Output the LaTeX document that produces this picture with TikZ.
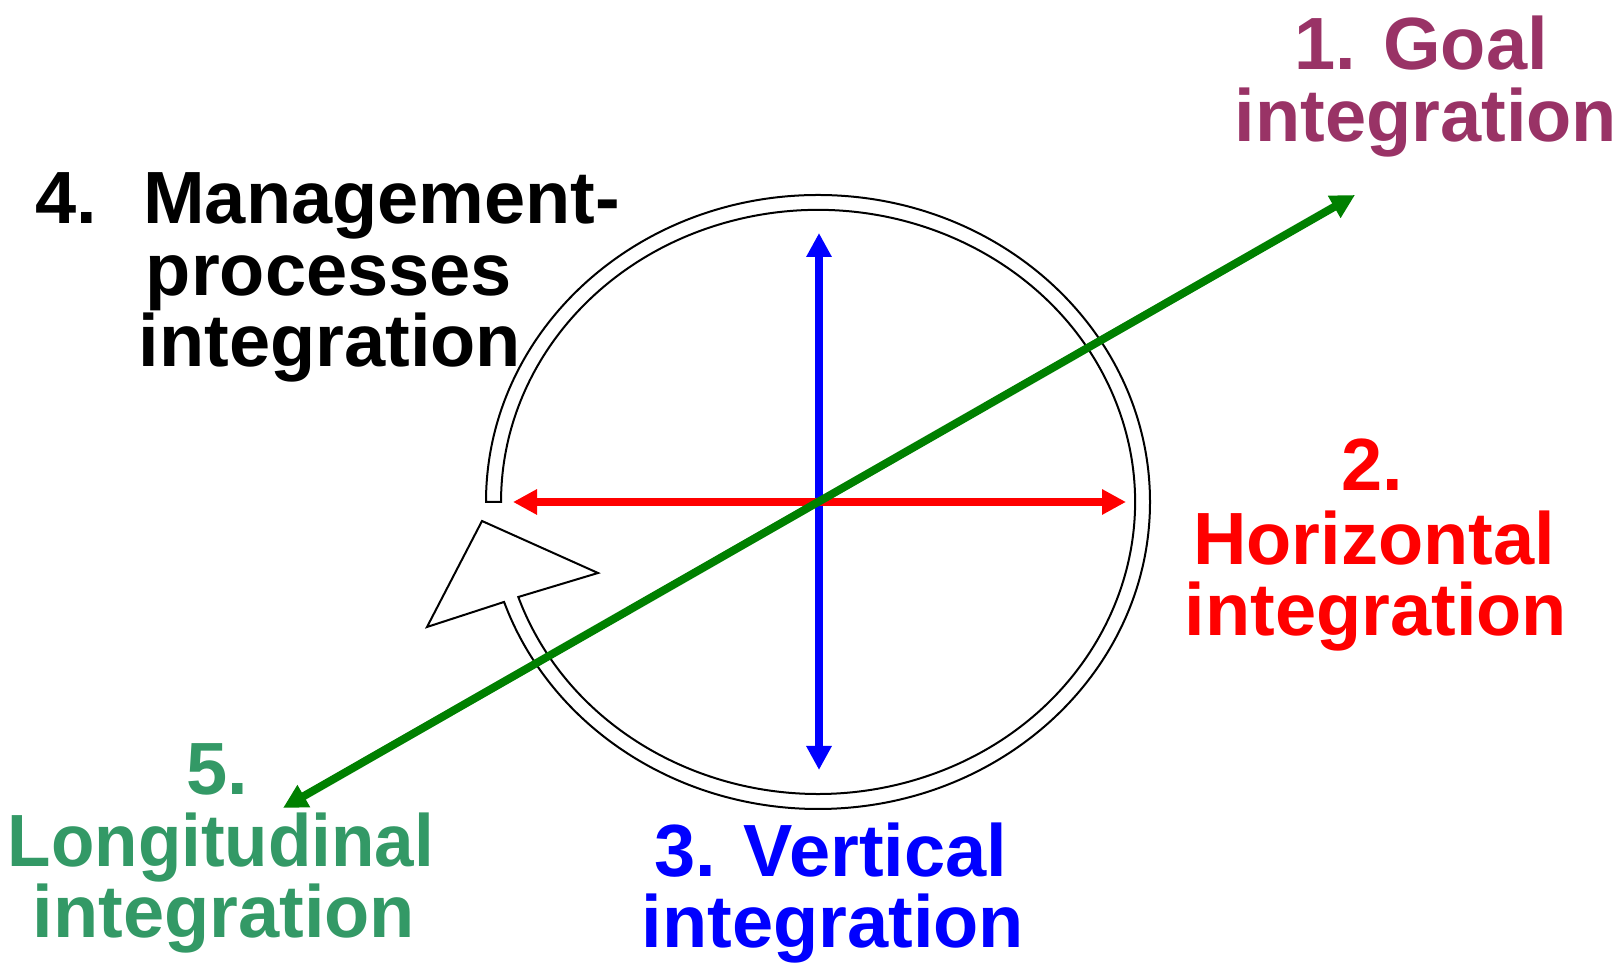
\documentclass[tikz,border=0pt]{standalone}
\usepackage{fontspec}
\setmainfont{Liberation Sans}
\usetikzlibrary{arrows.meta}
\definecolor{goalc}{HTML}{993366}
\definecolor{horc}{HTML}{FF0000}
\definecolor{verc}{HTML}{0000FF}
\definecolor{lonc}{HTML}{339966}
\definecolor{arrg}{HTML}{008000}
\begin{document}
\begin{tikzpicture}[x=1pt,y=1pt,
  lbl/.style={font=\fontsize{74}{80}\selectfont\bfseries, inner sep=0pt, anchor=base},
  axis/.style={line width=8pt, {Triangle[length=24pt,width=24pt]}-{Triangle[length=24pt,width=24pt]}},
  ring/.style={draw=black, line width=2pt, fill=white, line join=miter}]
\useasboundingbox (0,0) rectangle (1622,965);
\coordinate (C) at (819,463);
% ring arrow
\path[ring] (486,463) arc[start angle=180, end angle=-161, x radius=332pt, y radius=307pt]
  -- (427,338) -- (482,444) -- (598,392) -- (518.3,368)
  arc[start angle=-161, end angle=180, x radius=317pt, y radius=292pt] -- cycle;
% axes
\coordinate (vt) at (819,732);
\coordinate (vb) at (819,195);
\coordinate (hl) at (513,463);
\coordinate (hr) at (1126,463);
\coordinate (gl) at (283,157);
\coordinate (gr) at (1355,770);
\draw[axis, verc] (vb) -- (vt);
\draw[axis, horc] (hl) -- (hr);
\draw[axis, arrg] (gl) -- (gr);
% labels
\node[lbl, text=goalc] (g1) at (1421,895) {1. Goal};
\node[lbl, text=goalc] (g2) at (1426,823) {integration};
\node[lbl, text=black] (m1) at (328,741) {4.\hspace{46pt}Management-};
\node[lbl, text=black] (m2) at (329,669) {processes};
\node[lbl, text=black] (m3) at (330,598) {integration};
\node[lbl, text=horc] (h1) at (1372,474) {2.};
\node[lbl, text=horc] (h2) at (1374,400) {Horizontal};
\node[lbl, text=horc] (h3) at (1376,329) {integration};
\node[lbl, text=verc] (v1) at (831,88) {3. Vertical};
\node[lbl, text=verc] (v2) at (833,17) {integration};
\node[lbl, text=lonc] (l1) at (217,170) {5.};
\node[lbl, text=lonc, xscale=0.96] (l2) at (221,98) {Longitudinal};
\node[lbl, text=lonc] (l3) at (224,27) {integration};
\end{tikzpicture}
\end{document}
